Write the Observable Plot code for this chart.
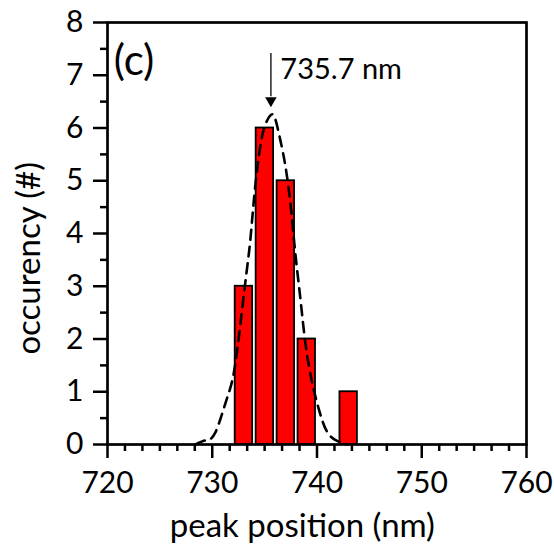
<!DOCTYPE html>
<html>
<head>
<meta charset="utf-8">
<script src="https://cdn.jsdelivr.net/npm/d3@7"></script>
<script src="https://cdn.jsdelivr.net/npm/@observablehq/plot@0.6"></script>
<style>
  html, body { margin: 0; padding: 0; background: #fff; }
  #chart { width: 554px; height: 545px; }
</style>
</head>
<body>
<div id="chart"></div>
<script>
// Histogram bins (nm) and counts
const binStart = [732, 734, 736, 738, 742];
const binEnd   = [734, 736, 738, 740, 744];
const counts   = [3, 6, 5, 2, 1];

// Dashed Gaussian fit curve
const fitX = [728.4, 729.4, 730.3, 731.4, 732.2, 733.1, 733.6, 734.0, 734.4, 734.9, 735.55, 736.0, 736.5, 737.0, 737.5, 737.9, 738.4, 738.9, 739.5, 740.2, 741.0, 742.0, 742.9];
const fitY = [0.0, 0.08, 0.23, 0.87, 1.53, 2.98, 3.81, 4.69, 5.39, 5.96, 6.24, 6.18, 5.77, 5.26, 4.5, 3.68, 2.79, 1.91, 1.21, 0.65, 0.23, 0.06, 0.0];

// Axis ticks
const xMajor = [720, 730, 740, 750, 760];
const xMinorPerMajor = 6;
const yMajor = [0, 1, 2, 3, 4, 5, 6, 7, 8];
const yMinor = [0.5, 1.5, 2.5, 3.5, 4.5, 5.5, 6.5, 7.5];

// Annotations
const peakValue = 735.7;
const peakLabel = "735.7 nm";
const panelLabel = "(c)";
const xTitle = "peak position (nm)";
const yTitle = "occurency (#)";

const bars = binStart.map((b, i) => ({x1: b, x2: binEnd[i], y: counts[i]}));
const fit = fitX.map((x, i) => ({x, y: fitY[i]}));
const xMinor = [];
for (let i = 0; i < xMajor.length - 1; i++) {
  for (let k = 1; k < xMinorPerMajor; k++) xMinor.push(xMajor[i] + (xMajor[i + 1] - xMajor[i]) * k / xMinorPerMajor);
}

const font = "Lato, 'Open Sans', sans-serif";

const chart = Plot.plot({
  width: 554,
  height: 545,
  marginLeft: 107,
  marginRight: 28,
  marginTop: 22,
  marginBottom: 101,
  style: {fontFamily: font, fontSize: "30px", color: "#000", background: "#fff"},
  x: {domain: [720, 760]},
  y: {domain: [0, 8]},
  marks: [
    Plot.rectY(bars, {x1: "x1", x2: "x2", y: "y", fill: "#ff0000", stroke: "#000", strokeWidth: 1.8, insetLeft: 2, insetRight: 1.5}),
    Plot.line(fit, {x: "x", y: "y", stroke: "#000", strokeWidth: 2.6, strokeDasharray: "10,7", curve: "natural"}),
    Plot.link([peakValue], {x1: d => d - 0.1, x2: d => d - 0.1, y1: 7.42, y2: 6.6, stroke: "#000", strokeWidth: 1.3}),
    Plot.dot([peakValue], {x: d => d - 0.1, y: 6.52, symbol: "triangle2", r: 5.5, fill: "#000", rotate: 180}),
    Plot.text([peakLabel], {x: 736.5, y: 7.11, text: d => d, textAnchor: "start", fontSize: 29, fill: "#000"}),
    Plot.text([panelLabel], {x: 720.6, y: 7.26, text: d => d, textAnchor: "start", fontSize: 42, fill: "#000"}),
    Plot.axisX({ticks: xMajor, tickSize: 14, tickPadding: 13, tickFormat: d => d, label: null, strokeWidth: 2.5, fontSize: 30}),
    Plot.axisX({ticks: xMinor, tickSize: 7, text: null, label: null, strokeWidth: 2.5}),
    Plot.axisY({ticks: yMajor, tickSize: 14, tickPadding: 10, tickFormat: d => d, label: null, strokeWidth: 2.5, fontSize: 30}),
    Plot.axisY({ticks: yMinor, tickSize: 7, text: null, label: null, strokeWidth: 2.5}),
    Plot.text([yTitle], {x: 712.55, y: 3.53, rotate: -90, text: d => d, fontSize: 33, fill: "#000"}),
    Plot.text([xTitle], {x: 738.6, y: -1.56, text: d => d, fontSize: 33, fill: "#000"}),
    Plot.frame({stroke: "#000", strokeWidth: 2.7})
  ]
});
document.getElementById("chart").appendChild(chart);
</script>
</body>
</html>
